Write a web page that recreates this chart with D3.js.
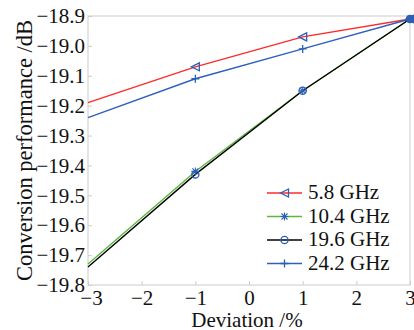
<!DOCTYPE html>
<html><head><meta charset="utf-8">
<script src="https://cdn.jsdelivr.net/npm/d3@7"></script>
<style>body{margin:0;background:#fff}svg{display:block}</style>
</head><body>
<svg id="c" width="414" height="330"></svg>
<script>
const deviation = [-3, -1, 1, 3];
const seriesNames = ["5.8 GHz", "10.4 GHz", "19.6 GHz", "24.2 GHz"];
const s58 = [-19.19, -19.07, -18.97, -18.91];
const s104 = [-19.73, -19.42, -19.15, -18.91];
const s196 = [-19.74, -19.43, -19.15, -18.91];
const s242 = [-19.24, -19.11, -19.01, -18.91];
const xTicks = [-3, -2, -1, 0, 1, 2, 3];
const yTicks = [-18.9, -19.0, -19.1, -19.2, -19.3, -19.4, -19.5, -19.6, -19.7, -19.8];

const series = [
  {name: seriesNames[0], values: s58, color: "#ff2a2a", marker: "tri"},
  {name: seriesNames[1], values: s104, color: "#5cb83c", marker: "star"},
  {name: seriesNames[2], values: s196, color: "#000000", marker: "circle"},
  {name: seriesNames[3], values: s242, color: "#2e5fbf", marker: "plus"}
];
const markerColor = "#2e5fb5";
const FONT = "'Liberation Serif'";

const svg = d3.select("#c");
const m = {l: 88, r: 410, t: 16, b: 285};
const x = d3.scaleLinear().domain([-3, 3]).range([m.l, m.r]);
const y = d3.scaleLinear().domain([-19.8, -18.9]).range([m.b, m.t]);

svg.append("rect").attr("x", m.l).attr("y", m.t).attr("width", m.r - m.l).attr("height", m.b - m.t)
  .attr("fill", "none").attr("stroke", "#cccccc").attr("stroke-width", 1);

const fmt = v => (v < 0 ? "\u2212" : "") + Math.abs(v).toFixed(1);
const gx = svg.append("g").attr("transform", `translate(0,${m.b})`)
  .call(d3.axisBottom(x).tickValues(xTicks).tickSize(-4).tickPadding(4)
    .tickFormat(v => (v < 0 ? "\u2212" : "") + Math.abs(v)));
const gy = svg.append("g").attr("transform", `translate(${m.l},0)`)
  .call(d3.axisLeft(y).tickValues(yTicks).tickSize(-4).tickPadding(3).tickFormat(fmt));
[gx, gy].forEach(g => {
  g.attr("font-family", null).attr("font-size", null);
  g.select(".domain").remove();
  g.selectAll(".tick line").attr("stroke", "#cccccc");
  g.selectAll("text").style("font-family", FONT).style("font-size", "21px").attr("fill", "#111");
});
gx.selectAll("text").attr("y", 20).attr("dy", null)
  .attr("dx", d => d === -3 ? 3 : 0);

svg.append("text").attr("x", (m.l + m.r) / 2 - 2).attr("y", 327).attr("text-anchor", "middle")
  .attr("fill", "#111").style("font-family", FONT).style("font-size", "21px").text("Deviation /%");
svg.append("text").attr("transform", `translate(32,${(m.t + m.b) / 2}) rotate(-90)`)
  .attr("text-anchor", "middle").attr("fill", "#111").style("font-family", FONT).style("font-size", "22.5px")
  .text("Conversion performance /dB");

const line = d3.line().x((d, i) => x(deviation[i])).y(d => y(d));

function drawMarker(g, type, cx, cy, filled) {
  const s = 4;
  if (type === "tri") {
    g.append("path").attr("d", `M${cx - s},${cy} L${cx + s},${cy - s} L${cx + s},${cy + s} Z`)
      .attr("fill", filled ? markerColor : "none").attr("stroke", markerColor).attr("stroke-width", 1.3);
  } else if (type === "circle") {
    g.append("circle").attr("cx", cx).attr("cy", cy).attr("r", 3.6)
      .attr("fill", filled ? markerColor : "none").attr("stroke", markerColor).attr("stroke-width", 1.3);
  } else if (type === "plus") {
    g.append("path").attr("d", `M${cx - s},${cy} H${cx + s} M${cx},${cy - s} V${cy + s}`)
      .attr("stroke", markerColor).attr("stroke-width", 1.3);
  } else if (type === "star") {
    g.append("path").attr("d", `M${cx - s},${cy} H${cx + s} M${cx},${cy - s} V${cy + s} M${cx - 3},${cy - 3} L${cx + 3},${cy + 3} M${cx - 3},${cy + 3} L${cx + 3},${cy - 3}`)
      .attr("stroke", markerColor).attr("stroke-width", 1.1);
  }
}

const plot = svg.append("g");
series.forEach(s => {
  plot.append("path").datum(s.values).attr("d", line).attr("fill", "none")
    .attr("stroke", s.color).attr("stroke-width", 1.4);
});
series.forEach(s => {
  s.values.forEach((v, i) => {
    if (deviation[i] === -3) return;
    drawMarker(plot, s.marker, x(deviation[i]), y(v), deviation[i] === 3);
  });
});

const lg = svg.append("g");
const legY = [193, 216.5, 240, 263.5];
series.forEach((s, i) => {
  const ly = legY[i];
  lg.append("line").attr("x1", 267).attr("x2", 302).attr("y1", ly).attr("y2", ly)
    .attr("stroke", s.color).attr("stroke-width", 1.4);
  drawMarker(lg, s.marker, 284.5, ly, false);
  lg.append("text").attr("x", 308).attr("y", ly + 6).attr("fill", "#111")
    .style("font-family", FONT).style("font-size", "21px").text(s.name);
});
</script>
</body></html>
